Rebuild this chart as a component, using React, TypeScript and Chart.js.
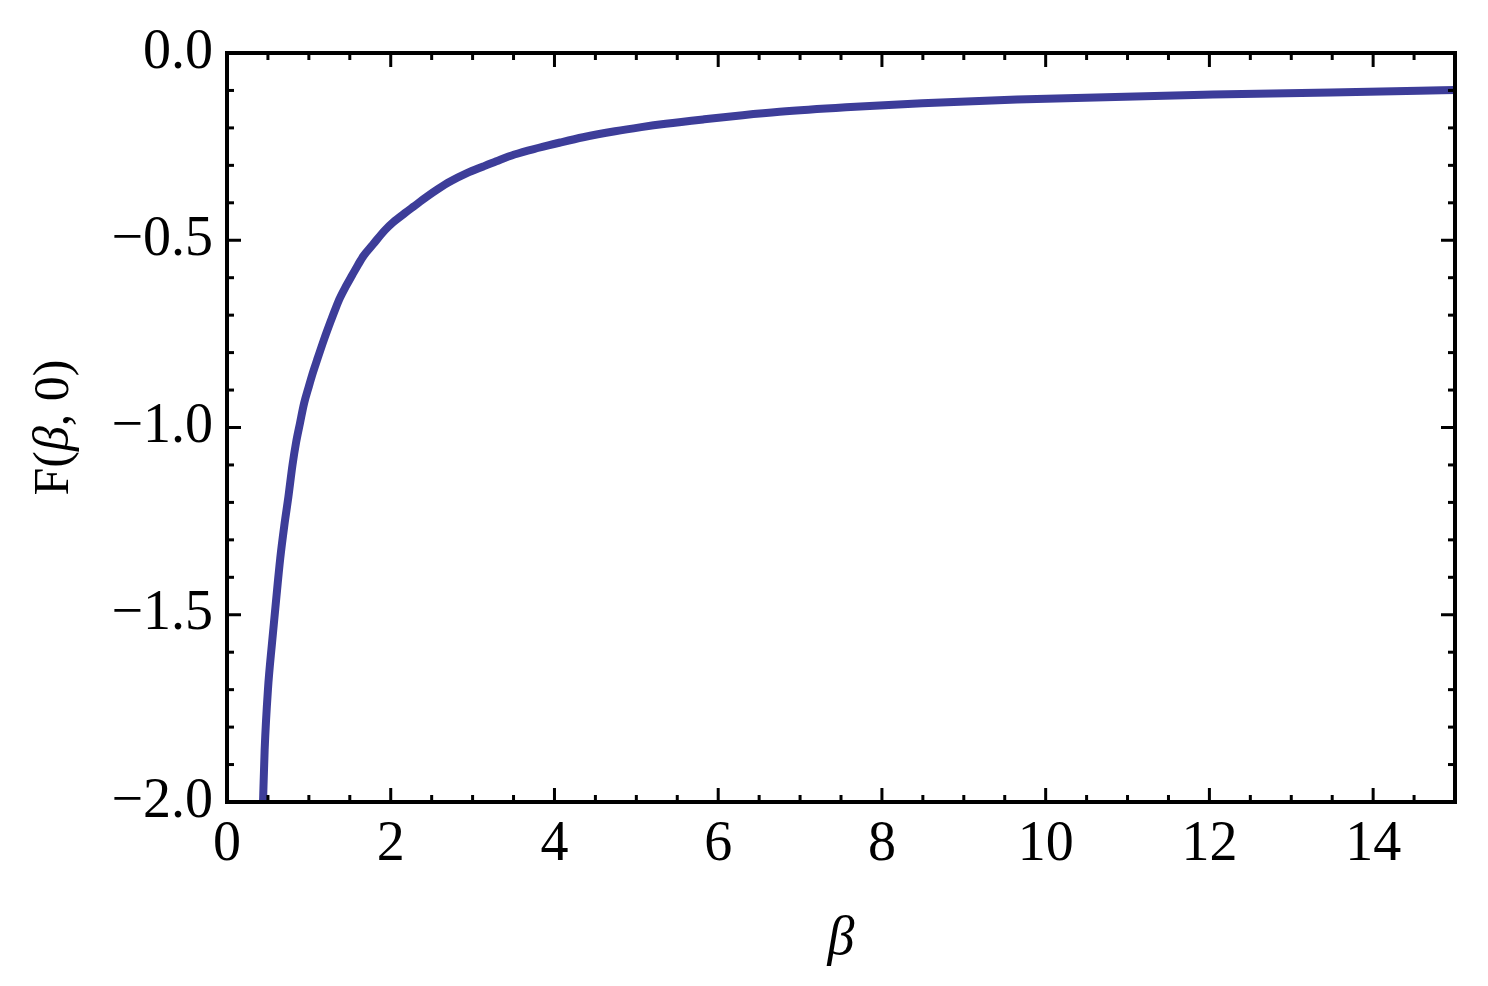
import React, { useEffect, useRef } from 'react';
import { Chart, registerables } from 'chart.js';

Chart.register(...registerables);

// β values and F(β, 0) values
const betaValues = [
  0.44, 0.46, 0.50, 0.55, 0.60, 0.65, 0.70, 0.75, 0.80, 0.843,
  0.892, 0.941, 1.00, 1.04, 1.10, 1.185, 1.26, 1.33, 1.38, 1.45,
  1.53, 1.60, 1.67, 1.78, 1.93, 2.03, 2.17, 2.28, 2.44, 2.58,
  2.72, 2.93, 3.13, 3.29, 3.51, 3.81, 4.07, 4.35, 4.74, 5.06,
  5.36, 5.83, 6.30, 6.75, 7.56, 8.49, 9.65, 12.04, 14.56, 15.0,
];
const fValues = [
  -2.0, -1.86, -1.70, -1.575, -1.46, -1.35, -1.262, -1.185, -1.10, -1.041,
  -0.988, -0.936, -0.890, -0.860, -0.820, -0.765, -0.720, -0.680, -0.654, -0.624,
  -0.593, -0.566, -0.541, -0.512, -0.473, -0.452, -0.428, -0.410, -0.384, -0.363,
  -0.344, -0.321, -0.303, -0.289, -0.271, -0.253, -0.239, -0.225, -0.209, -0.198,
  -0.189, -0.177, -0.166, -0.157, -0.145, -0.134, -0.124, -0.111, -0.101, -0.099,
];

const xTickValues = [0, 2, 4, 6, 8, 10, 12, 14];
const xTickLabels = ['0', '2', '4', '6', '8', '10', '12', '14'];
const yTickValues = [-2, -1.5, -1, -0.5, 0];
const yTickLabels = ['\u22122.0', '\u22121.5', '\u22121.0', '\u22120.5', '0.0'];
const xMin = 0;
const xMax = 15;
const yMin = -2;
const yMax = 0;
const xMinorStep = 0.5;
const yMinorStep = 0.1;

const xTitle = '\u03B2';
const yTitleParts = [
  { text: 'F(', italic: false },
  { text: '\u03B2', italic: true },
  { text: ', 0)', italic: false },
];

const FONT = "'Liberation Serif', 'Times New Roman', serif";
const LINE_COLOR = '#3d3d99';

const framePlugin = {
  id: 'mmaFrame',
  afterDatasetsDraw(chart: any) {
    const { ctx, chartArea, scales } = chart;
    const { left, right, top, bottom } = chartArea;
    const xs = scales.x;
    const ys = scales.y;
    ctx.save();
    ctx.strokeStyle = '#000';
    ctx.lineCap = 'butt';
    const seg = (x1: number, y1: number, x2: number, y2: number, w: number) => {
      ctx.lineWidth = w;
      ctx.beginPath();
      ctx.moveTo(x1, y1);
      ctx.lineTo(x2, y2);
      ctx.stroke();
    };
    const isMajor = (v: number, majors: number[]) => majors.some((m) => Math.abs(m - v) < 1e-6);
    const nx = Math.round((xMax - xMin) / xMinorStep);
    for (let i = 1; i < nx; i++) {
      const v = xMin + i * xMinorStep;
      const len = isMajor(v, xTickValues) ? 14 : 7;
      const px = xs.getPixelForValue(v);
      seg(px, bottom, px, bottom - len, 3);
      seg(px, top, px, top + len, 3);
    }
    const ny = Math.round((yMax - yMin) / yMinorStep);
    for (let i = 1; i < ny; i++) {
      const v = yMin + i * yMinorStep;
      const len = isMajor(v, yTickValues) ? 14 : 7;
      const py = ys.getPixelForValue(v);
      seg(left, py, left + len, py, 3);
      seg(right, py, right - len, py, 3);
    }
    ctx.lineWidth = 4;
    ctx.strokeRect(left, top, right - left, bottom - top);
    ctx.restore();
  },
  afterDraw(chart: any) {
    const { ctx, chartArea } = chart;
    const cy = (chartArea.top + chartArea.bottom) / 2;
    const size = 50;
    ctx.save();
    ctx.translate(55, cy);
    ctx.rotate(-Math.PI / 2);
    ctx.fillStyle = '#000';
    ctx.textBaseline = 'middle';
    ctx.textAlign = 'left';
    const fontFor = (italic: boolean) => `${italic ? 'italic ' : ''}${size}px ${FONT}`;
    let total = 0;
    const widths = yTitleParts.map((p) => {
      ctx.font = fontFor(p.italic);
      const w = ctx.measureText(p.text).width;
      total += w;
      return w;
    });
    let x = -total / 2;
    yTitleParts.forEach((p, i) => {
      ctx.font = fontFor(p.italic);
      ctx.fillText(p.text, x, 0);
      x += widths[i];
    });
    ctx.restore();
  },
};

export default function App() {
  const canvasRef = useRef<HTMLCanvasElement | null>(null);

  useEffect(() => {
    const canvas = canvasRef.current;
    if (!canvas) return;
    const data = betaValues.map((b, i) => ({ x: b, y: fValues[i] }));
    const tickFont = { family: FONT, size: 56 };
    const chart = new Chart(canvas, {
      type: 'line',
      data: {
        datasets: [
          {
            data,
            borderColor: LINE_COLOR,
            borderWidth: 8,
            pointRadius: 0,
            fill: false,
            cubicInterpolationMode: 'monotone',
          },
        ],
      },
      options: {
        responsive: false,
        animation: false,
        events: [],
        layout: { padding: { left: 0, right: 1488 - 1455, top: 53, bottom: 0 } },
        plugins: {
          legend: { display: false },
          tooltip: { enabled: false },
        },
        scales: {
          x: {
            type: 'linear',
            min: xMin,
            max: xMax,
            afterBuildTicks: (s: any) => {
              s.ticks = xTickValues.map((v) => ({ value: v }));
            },
            afterFit: (s: any) => {
              s.height = 986 - 802;
            },
            ticks: {
              callback: (_v: any, i: number) => xTickLabels[i],
              font: tickFont,
              color: '#000',
              padding: 10,
              maxRotation: 0,
              autoSkip: false,
            },
            grid: { display: false, drawTicks: false },
            border: { display: false },
            title: {
              display: true,
              text: xTitle,
              color: '#000',
              font: { family: FONT, size: 54, style: 'italic' },
              padding: { top: 0, bottom: 14 },
            },
          },
          y: {
            type: 'linear',
            min: yMin,
            max: yMax,
            afterBuildTicks: (s: any) => {
              s.ticks = yTickValues.map((v) => ({ value: v }));
            },
            afterFit: (s: any) => {
              s.width = 227;
            },
            ticks: {
              callback: (_v: any, i: number) => yTickLabels[i],
              font: tickFont,
              color: '#000',
              padding: 14,
              autoSkip: false,
            },
            grid: { display: false, drawTicks: false },
            border: { display: false },
          },
        },
      },
      plugins: [framePlugin],
    } as any);
    return () => chart.destroy();
  }, []);

  return (
    <div style={{ position: 'fixed', left: 0, top: 0, width: 1488, height: 986, background: '#fff' }}>
      <canvas ref={canvasRef} width={1488} height={986} style={{ display: 'block' }} />
    </div>
  );
}
